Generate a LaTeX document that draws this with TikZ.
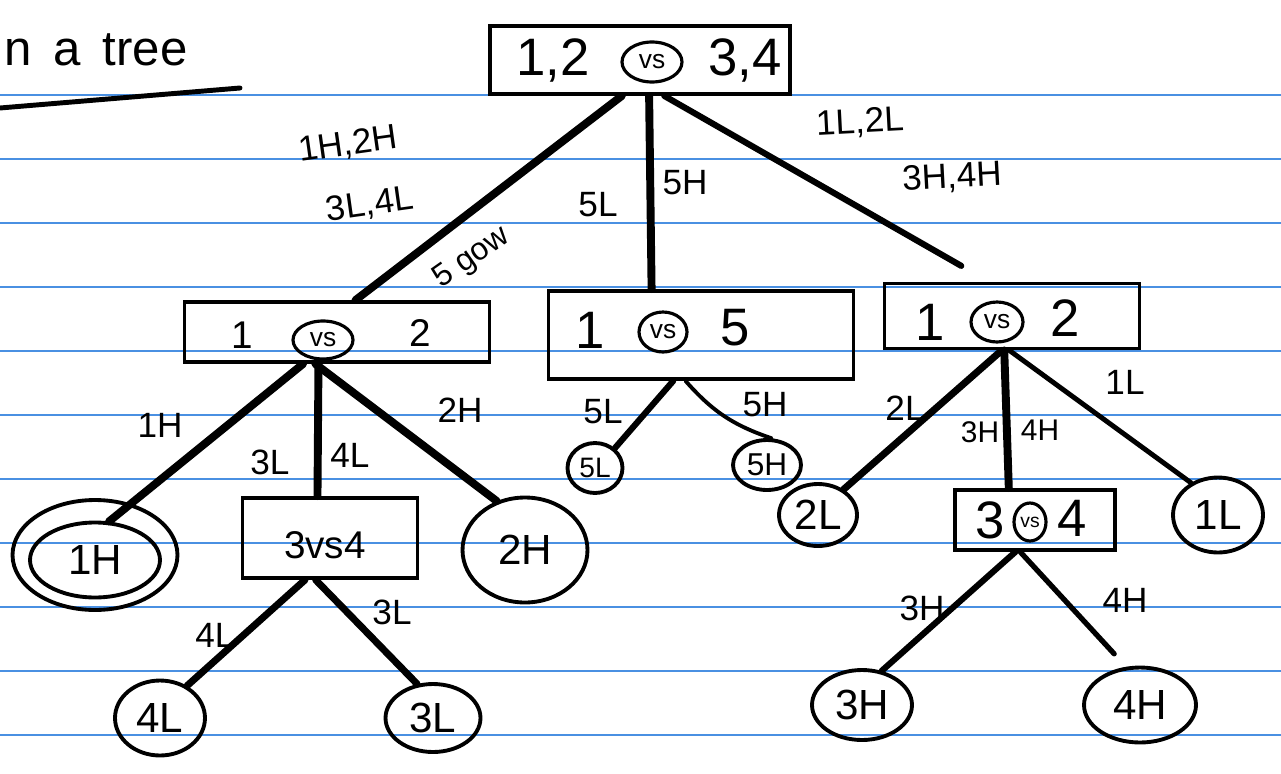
\documentclass[tikz,border=0pt]{standalone}
\usepackage{fontspec}
\setmainfont{Liberation Sans}
\usetikzlibrary{shapes.geometric,calc}
\definecolor{rule}{RGB}{74,144,226}
\tikzset{
  box/.style={draw, line width=2.2pt, rectangle, inner sep=0pt},
  leaf/.style={draw, line width=2.2pt, ellipse, inner sep=0pt, font=\fontsize{24}{24}\selectfont},
  vsc/.style={draw, ellipse, line width=1.8pt, inner sep=0pt, font=\fontsize{15}{15}\selectfont},
  edge/.style={line width=4.5pt, line cap=round},
  thinedge/.style={line width=2.2pt, line cap=round},
  lab/.style={font=\fontsize{20}{20}\selectfont, inner sep=0pt},
  big/.style={font=\fontsize{30}{30}\selectfont, inner sep=0pt},
  mid/.style={font=\fontsize{22}{22}\selectfont, inner sep=0pt},
  ruleline/.style={draw=rule, line width=0.8pt}
}
\newcommand{\mybot}[2]{($(#1.south west)!#2!(#1.south east)$)}
\newcommand{\mytop}[2]{($(#1.north west)!#2!(#1.north east)$)}
\begin{document}
\begin{tikzpicture}[x=0.02cm,y=-0.02cm]
\useasboundingbox (0,0) rectangle (1281,774);
\fill[white] (0,0) rectangle (1281,774);
% ruled lines
\foreach \k in {0,...,10} {
  \draw[ruleline] (0,{95+64*\k}) -- (1281,{95+64*\k});
}
% title fragment
\node[lab, anchor=west, font=\fontsize{28}{28}\selectfont] (title) at (4,50) {n\, a\, tree};
\coordinate (ulA) at (0,108);
\coordinate (ulB) at (240,88);
\draw[line width=2.8pt, line cap=round] (ulA) -- (ulB);

% root
\node[box, minimum width=6cm, minimum height=1.36cm] (root) at (640,60) {};
\node[big] (r1) at (553,60) {1,2};
\node[vsc, minimum width=1.2cm, minimum height=0.8cm] (rvs) at (652,62) {vs};
\node[big] (r2) at (745,60) {3,4};

% level 1 boxes
\node[box, minimum width=6.1cm, minimum height=1.2cm] (L) at (337,332) {};
\node[mid] (L1) at (242,335) {1};
\node[vsc, minimum width=1.2cm, minimum height=0.76cm] (Lvs) at (323,340) {vs};
\node[mid] (L2) at (420,333) {2};

\node[box, minimum width=6.1cm, minimum height=1.76cm] (M) at (701,335) {};
\node[big] (M1) at (590,330) {1};
\node[vsc, minimum width=0.96cm, minimum height=0.8cm] (Mvs) at (663,332) {vs};
\node[big] (M2) at (735,328) {5};

\node[box, minimum width=5.1cm, minimum height=1.3cm] (R) at (1012,316) {};
\node[big] (R1) at (930,322) {1};
\node[vsc, minimum width=1.04cm, minimum height=0.8cm] (Rvs) at (997,322) {vs};
\node[big] (R2) at (1065,318) {2};

% level 2
\node[leaf, minimum width=3.3cm, minimum height=2.2cm] (H1) at (95,555) {};
\node[leaf, minimum width=2.6cm, minimum height=1.5cm] (H1in) at (95,560) {1H};
\node[box, minimum width=3.5cm, minimum height=1.6cm] (LL) at (330,538) {};
\node[mid] (LLt) at (325,545) {3vs4};
\node[leaf, minimum width=2.5cm, minimum height=2.1cm] (H2) at (525,550) {2H};
\node[leaf, minimum width=1.8cm, minimum height=1.5cm] (L4) at (160,718) {4L};
\node[leaf, minimum width=1.9cm, minimum height=1.36cm] (L3) at (433,718) {3L};

\node[leaf, minimum width=1.1cm, minimum height=1.0cm, font=\fontsize{16}{16}\selectfont] (L5) at (595,468) {5L};
\node[leaf, minimum width=1.36cm, minimum height=1.0cm, font=\fontsize{18}{18}\selectfont] (H5) at (767,465) {5H};

\node[leaf, minimum width=1.56cm, minimum height=1.24cm] (L2n) at (818,515) {2L};
\node[box, minimum width=3.2cm, minimum height=1.2cm] (RR) at (1035,520) {};
\node[big] (RR1) at (990,520) {3};
\node[vsc, minimum width=0.64cm, minimum height=0.76cm, font=\fontsize{11}{11}\selectfont] (RRvs) at (1030,522) {vs};
\node[big] (RR2) at (1072,518) {4};
\node[leaf, minimum width=1.8cm, minimum height=1.5cm] (L1n) at (1218,515) {1L};
\node[leaf, minimum width=2.0cm, minimum height=1.4cm] (H3) at (862,705) {3H};
\node[leaf, minimum width=2.24cm, minimum height=1.5cm] (H4) at (1140,705) {4H};

% edges from root
\draw[edge] \mybot{root}{0.44} -- \mytop{L}{0.56};
\draw[edge] \mybot{root}{0.53} -- \mytop{M}{0.34};
\draw[edge, line width=3.5pt, shorten >=18pt] \mybot{root}{0.58} -- \mytop{R}{0.41};
% edges from L
\draw[edge] \mybot{L}{0.39} -- (H1in.70);
\draw[edge] \mybot{L}{0.44} -- \mytop{LL}{0.43};
\draw[edge] \mybot{L}{0.43} -- (H2.120);
% from LL
\draw[edge, line width=4pt] \mybot{LL}{0.36} -- (L4.50);
\draw[edge, line width=4pt] \mybot{LL}{0.42} -- (L3.115);
% from M
\draw[edge, line width=3.5pt] \mybot{M}{0.41} -- (L5.45);
\draw[thinedge] \mybot{M}{0.45} to[bend right=15] (H5.80);
% from R
\draw[edge, line width=4pt] \mybot{R}{0.46} -- (L2n.45);
\draw[edge] \mybot{R}{0.47} -- \mytop{RR}{0.34};
\draw[edge, line width=2.8pt] \mybot{R}{0.49} -- (L1n.130);
% from RR
\draw[edge, line width=3.5pt] \mybot{RR}{0.38} -- (H3.60);
\draw[edge, line width=3pt, shorten >=10pt] \mybot{RR}{0.41} -- (H4.110);

% labels
\node[lab, rotate=8] (e1) at (348,145) {1H,2H};
\node[lab, rotate=8] (e2) at (370,205) {3L,4L};
\node[lab, rotate=35, font=\fontsize{18}{18}\selectfont] (e3) at (472,258) {5 gow};
\node[lab] (e4) at (598,205) {5L};
\node[lab] (e5) at (685,183) {5H};
\node[lab, rotate=3] (e6) at (860,123) {1L,2L};
\node[lab, rotate=3] (e7) at (952,178) {3H,4H};
\node[lab] (e8) at (160,425) {1H};
\node[lab] (e9) at (270,462) {3L};
\node[lab] (e10) at (350,455) {4L};
\node[lab] (e11) at (460,410) {2H};
\node[lab] (e12) at (215,635) {4L};
\node[lab] (e13) at (392,612) {3L};
\node[lab] (e14) at (603,412) {5L};
\node[lab] (e15) at (765,405) {5H};
\node[lab] (e16) at (905,408) {2L};
\node[lab, font=\fontsize{17}{17}\selectfont] (e17) at (980,432) {3H};
\node[lab, font=\fontsize{17}{17}\selectfont] (e18) at (1040,430) {4H};
\node[lab] (e19) at (1125,382) {1L};
\node[lab] (e20) at (922,608) {3H};
\node[lab] (e21) at (1125,600) {4H};
\end{tikzpicture}
\end{document}
